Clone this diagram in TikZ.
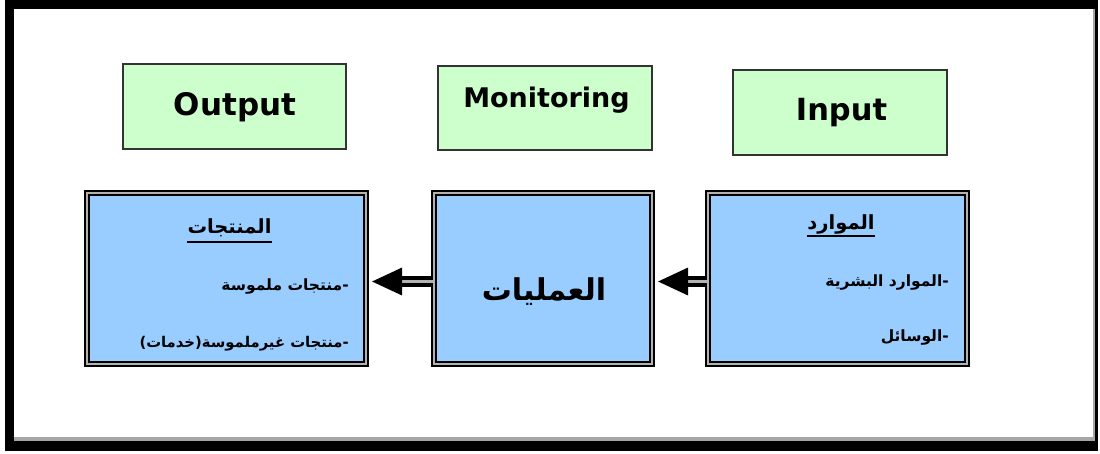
\documentclass[tikz,border=0pt]{standalone}
\usepackage{fontspec}
\setmainfont{DejaVu Sans}
\newfontfamily\arabicfont[Script=Arabic]{DejaVu Sans}
\TeXXeTstate=1
\usetikzlibrary{arrows.meta,shadows,calc}
\definecolor{boxgreen}{HTML}{CCFFCC}
\definecolor{boxblue}{HTML}{99CCFF}
\tikzset{
  greenbox/.style={draw=black!80, line width=1.4pt, fill=boxgreen, inner sep=0pt},
  bluebox/.style={draw=black, line width=2pt, double=gray!60, double distance=1.5pt,
    fill=boxblue, inner sep=0pt,
    drop shadow={shadow xshift=2.5pt, shadow yshift=-2.5pt, fill=gray!80, opacity=1}},
  latin/.style={font=\bfseries, anchor=base, inner sep=0pt},
  artext/.style={font=\arabicfont\bfseries\fontsize{15.5}{19}\selectfont, anchor=base east, inner sep=0pt},
  arhead/.style={font=\arabicfont\bfseries\fontsize{19.5}{23}\selectfont, anchor=base, inner sep=0pt},
  flowarrow/.style={draw=black, line width=3.4pt, double=gray!60, double distance=3.6pt,
    -{Triangle[length=30pt,width=27pt,fill=black]}, shorten >=5pt}
}
\begin{document}
\begin{tikzpicture}[x=1pt,y=-1pt]
\useasboundingbox (0,0) rectangle (1100,453);
% frame
\fill[black] (5,0) rectangle (1098,451);
\fill[gray!70] (14,9) rectangle (1095,441);
\fill[white] (14,9) rectangle (1093,437);
% green boxes
\node[greenbox, minimum width=223pt, minimum height=85pt] (outbox) at (234.5,106.5) {};
\node[greenbox, minimum width=214pt, minimum height=84pt] (monbox) at (545,108) {};
\node[greenbox, minimum width=214pt, minimum height=85pt] (inbox) at (840,112.5) {};
\node[latin, font=\bfseries\fontsize{31}{36}\selectfont] (outlbl) at (235,115) {Output};
\node[latin, font=\bfseries\fontsize{27}{32}\selectfont] (monlbl) at (546.5,107) {Monitoring};
\node[latin, font=\bfseries\fontsize{30.5}{36}\selectfont] (inlbl) at (841.5,120) {Input};
% blue boxes
\node[bluebox, minimum width=279pt, minimum height=171pt] (prod) at (226.5,278.5) {};
\node[bluebox, minimum width=218pt, minimum height=171pt] (proc) at (543,278.5) {};
\node[bluebox, minimum width=259pt, minimum height=171pt] (res) at (837.5,278.5) {};
% arrows
\draw[flowarrow] ($(proc.west)+(0,3)$) -- ($(prod.east)+(0,3)$);
\draw[flowarrow] ($(res.west)+(0,3)$) -- ($(proc.east)+(0,3)$);
% left box texts
\node[arhead] (prodh) at (229.5,233) {\beginR المنتجات\endR};
\draw[line width=2pt] ($(prodh.base west)+(0,9)$) -- ($(prodh.base east)+(0,9)$);
\node[artext] (prod1) at (349,290) {\beginR -منتجات ملموسة\endR};
\node[artext, font=\arabicfont\bfseries\fontsize{14.8}{18}\selectfont] (prod2) at (349,347) {\beginR -منتجات غيرملموسة(خدمات)\endR};
% middle
\node[font=\arabicfont\bfseries\fontsize{30}{36}\selectfont, inner sep=0pt] (procl) at (544,292) {\beginR العمليات\endR};
% right box texts
\node[arhead] (resh) at (841,229) {\beginR الموارد\endR};
\draw[line width=2pt] ($(resh.base west)+(0,7)$) -- ($(resh.base east)+(0,7)$);
\node[artext] (res1) at (949,286) {\beginR -الموارد البشرية\endR};
\node[artext] (res2) at (949,341) {\beginR -الوسائل\endR};
\end{tikzpicture}
\end{document}
